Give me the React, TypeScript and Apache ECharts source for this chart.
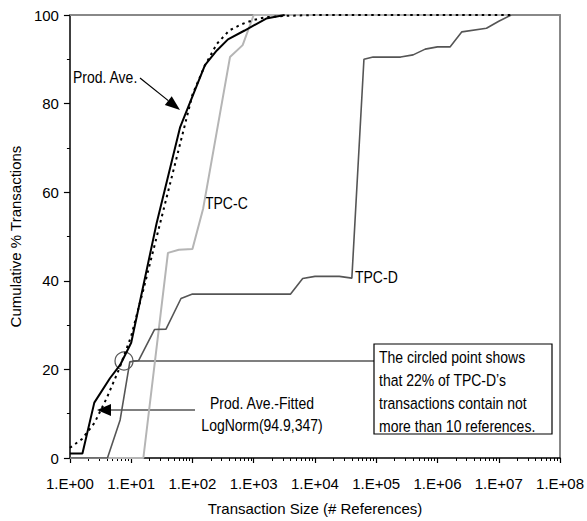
import React, { useEffect, useRef } from "react";
import * as echarts from "echarts";

// ---- data (x = transaction size in # references, y = cumulative %) ----
const prodAveX = [1, 1.6, 2.5, 4.5, 6.6, 10, 26, 63, 160, 250, 380, 710, 1600, 3200];
const prodAveY = [1, 1, 12.5, 18, 21, 26, 53, 74.7, 88.7, 92, 94.5, 96.5, 99.2, 100];

const fittedX = [1, 1.58, 2.51, 3.98, 6.31, 10, 15.8, 25.1, 39.8, 63.1, 100, 158, 251, 398, 631, 1000, 1580, 3160, 10000, 1.6e7];
const fittedY = [2.3, 4.3, 7.9, 13.5, 20, 27.5, 38, 49, 60, 71, 82, 88.5, 93.5, 96.5, 97.9, 98.9, 99.5, 99.8, 100, 100];

const tpcCX = [1, 15.8, 39.8, 60, 100, 150, 410, 660, 1000, 1.6e7];
const tpcCY = [0, 0, 46.3, 47, 47.2, 56.4, 90.5, 93.2, 100, 100];

const tpcDX = [1, 4.1, 6.6, 9.5, 13.2, 24, 37, 65, 100, 4000, 6300, 10000, 25000, 40000, 63000, 89000, 2.5e5, 4e5, 6.3e5, 1e6, 1.6e6, 2.5e6, 6.3e6, 1e7, 1.6e7];
const tpcDY = [0, 0, 8.6, 21.7, 22, 29, 29.1, 36, 37, 37, 40.5, 41, 41, 40.6, 90, 90.5, 90.5, 91, 92.3, 92.8, 92.8, 96.2, 97, 98.6, 100];

const xDecades = [1, 10, 100, 1e3, 1e4, 1e5, 1e6, 1e7, 1e8];
const yTicks = [0, 20, 40, 60, 80, 100];

const FONT = "'Liberation Sans', Arial, Helvetica, sans-serif";
const FS = 15;
const AFS = 14;
const SY = 1.18;

const zip = (xs: number[], ys: number[]) => xs.map((x, i) => [x, ys[i]]);

const minorTicks: number[] = [];
for (let d = 0; d < 8; d++) {
  for (let k = 2; k <= 9; k++) minorTicks.push(k * Math.pow(10, d));
}

const fmtDecade = (v: number) => {
  const e = Math.round(Math.log10(v));
  return "1.E+" + String(e).padStart(2, "0");
};

function arrowHead(tip: [number, number], from: [number, number], len: number, half: number) {
  const dx = tip[0] - from[0];
  const dy = tip[1] - from[1];
  const L = Math.sqrt(dx * dx + dy * dy);
  const ux = dx / L, uy = dy / L;
  const bx = tip[0] - ux * len, by = tip[1] - uy * len;
  const px = -uy * half, py = ux * half;
  return {
    base: [bx, by],
    pts: [tip, [bx + px, by + py], [bx - px, by - py]],
  };
}

export default function App() {
  const ref = useRef<HTMLDivElement>(null);
  useEffect(() => {
    if (!ref.current) return;
    const chart = echarts.init(ref.current, null, { renderer: "svg" });

    const a1 = arrowHead([180, 110], [140, 78], 15, 5.5);
    const a2 = arrowHead([97, 410], [195, 410], 14, 6);

    const label = (text: string, x: number, y: number, align = "left") => ({
      type: "text",
      x,
      y,
      scaleY: SY,
      silent: true,
      style: {
        text,
        font: `${AFS}px ${FONT}`,
        fill: "#000",
        align,
        verticalAlign: "middle",
        textAlign: align,
        textVerticalAlign: "middle",
      },
    });

    chart.setOption({
      animation: false,
      backgroundColor: "#fff",
      grid: { left: 62, right: 25, top: 15, bottom: 63, containLabel: false },
      xAxis: [
        {
          type: "log",
          logBase: 10,
          min: 1,
          max: 1e8,
          position: "bottom",
          name: "Transaction Size (# References)",
          nameLocation: "middle",
          nameGap: 43,
          nameTextStyle: { fontFamily: FONT, fontSize: FS, color: "#000" },
          axisLine: { show: true, lineStyle: { color: "#000", width: 1.5 } },
          axisTick: { show: true, inside: false, length: 5, customValues: xDecades, lineStyle: { color: "#000", width: 1.2 } },
          axisLabel: {
            show: true,
            customValues: xDecades,
            margin: 18,
            formatter: (v: number) => fmtDecade(v),
            fontFamily: FONT,
            fontSize: FS,
            color: "#000",
          },
          splitLine: { show: false },
          minorTick: { show: false },
        },
        {
          type: "log",
          logBase: 10,
          min: 1,
          max: 1e8,
          position: "bottom",
          axisLine: { show: false },
          axisTick: { show: true, inside: false, length: 3, customValues: minorTicks, lineStyle: { color: "#000", width: 1 } },
          axisLabel: { show: false },
          splitLine: { show: false },
        },
        {
          type: "log",
          logBase: 10,
          min: 1,
          max: 1e8,
          position: "top",
          axisLine: { show: true, lineStyle: { color: "#888", width: 2 } },
          axisTick: { show: false },
          axisLabel: { show: false },
          splitLine: { show: false },
        },
      ],
      yAxis: [
        {
          type: "value",
          min: 0,
          max: 100,
          interval: 20,
          position: "left",
          name: "Cumulative % Transactions",
          nameLocation: "middle",
          nameGap: 41,
          nameTextStyle: { fontFamily: FONT, fontSize: FS, color: "#000" },
          axisLine: { show: true, lineStyle: { color: "#000", width: 1.5 } },
          axisTick: { show: true, inside: false, length: 6, lineStyle: { color: "#000", width: 1.2 } },
          minorTick: { show: true, splitNumber: 2, length: 3, lineStyle: { color: "#000", width: 1 } },
          axisLabel: {
            margin: 11,
            fontFamily: FONT,
            fontSize: FS,
            color: "#000",
            customValues: yTicks,
          },
          splitLine: { show: false },
        },
        {
          type: "value",
          min: 0,
          max: 100,
          position: "right",
          axisLine: { show: true, lineStyle: { color: "#888", width: 2 } },
          axisTick: { show: false },
          axisLabel: { show: false },
          splitLine: { show: false },
        },
      ],
      series: [
        {
          name: "TPC-C",
          type: "line",
          data: zip(tpcCX, tpcCY),
          symbol: "none",
          silent: true,
          lineStyle: { color: "#b5b5b5", width: 2 },
          z: 2,
        },
        {
          name: "TPC-D",
          type: "line",
          data: zip(tpcDX, tpcDY),
          symbol: "none",
          silent: true,
          lineStyle: { color: "#555", width: 1.6 },
          z: 3,
        },
        {
          name: "Prod. Ave.-Fitted LogNorm(94.9,347)",
          type: "line",
          data: zip(fittedX, fittedY),
          symbol: "none",
          silent: true,
          lineStyle: { color: "#000", width: 2, type: [2.5, 4] },
          z: 4,
        },
        {
          name: "Prod. Ave.",
          type: "line",
          data: zip(prodAveX, prodAveY),
          symbol: "none",
          silent: true,
          lineStyle: { color: "#000", width: 2 },
          z: 5,
        },
      ],
      graphic: [
        label("Prod. Ave.", 73, 77),
        {
          type: "line",
          silent: true,
          shape: { x1: 140, y1: 78, x2: a1.base[0], y2: a1.base[1] },
          style: { stroke: "#000", lineWidth: 1.2 },
        },
        { type: "polygon", silent: true, shape: { points: a1.pts }, style: { fill: "#000" } },
        label("TPC-C", 205, 203),
        label("TPC-D", 355, 277),
        {
          type: "circle",
          silent: true,
          shape: { cx: 124, cy: 361, r: 9 },
          style: { stroke: "#555", lineWidth: 1.2, fill: "none" },
        },
        {
          type: "line",
          silent: true,
          shape: { x1: 133, y1: 361, x2: 374, y2: 361 },
          style: { stroke: "#000", lineWidth: 1.2 },
        },
        {
          type: "rect",
          silent: true,
          shape: { x: 374, y: 344, width: 178, height: 90 },
          style: { stroke: "#000", lineWidth: 1.2, fill: "#fff" },
        },
        {
          type: "text",
          x: 379,
          y: 346,
          scaleY: SY,
          silent: true,
          style: {
            text: "The circled point shows\nthat 22% of TPC-D\u2019s\ntransactions contain not\nmore than 10 references.",
            font: `${AFS}px ${FONT}`,
            fill: "#000",
            lineHeight: 19.5,
            align: "left",
            verticalAlign: "top",
            textAlign: "left",
            textVerticalAlign: "top",
          },
        },
        {
          type: "line",
          silent: true,
          shape: { x1: a2.base[0], y1: a2.base[1], x2: 195, y2: 410 },
          style: { stroke: "#000", lineWidth: 1.2 },
        },
        { type: "polygon", silent: true, shape: { points: a2.pts }, style: { fill: "#000" } },
        label("Prod. Ave.-Fitted", 262, 403, "center"),
        label("LogNorm(94.9,347)", 262, 425, "center"),
      ],
    });

    return () => chart.dispose();
  }, []);

  return (
    <div
      ref={ref}
      style={{ position: "absolute", left: 0, top: 0, width: 587, height: 521, background: "#fff" }}
    />
  );
}
